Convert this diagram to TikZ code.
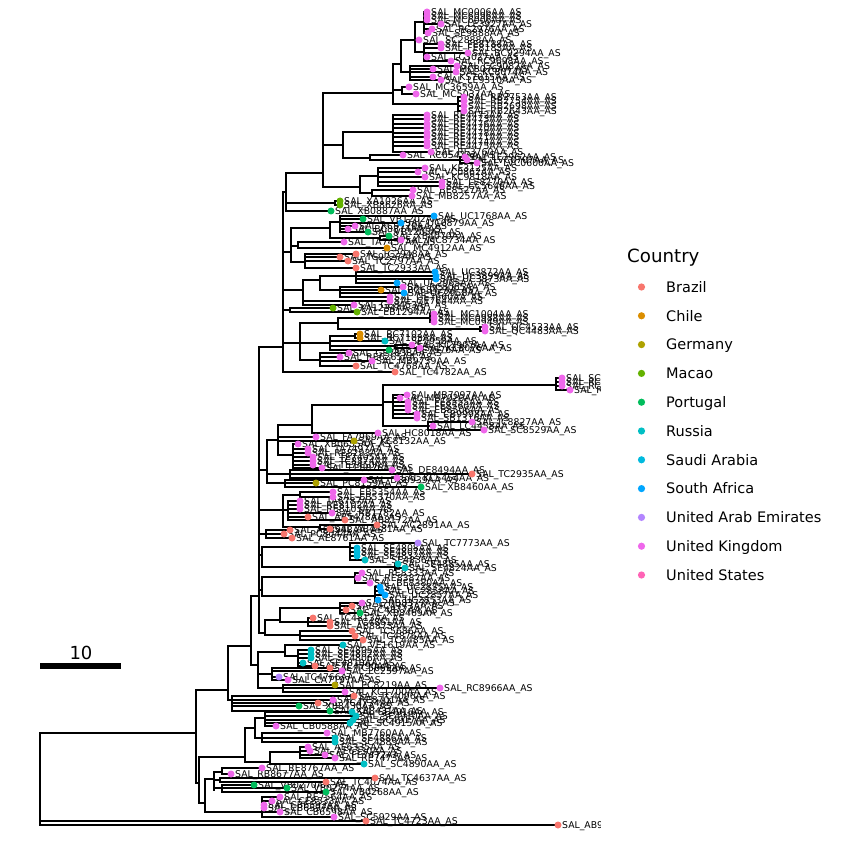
\documentclass[tikz,border=0pt]{standalone}
\usepackage{fontspec}
\setmainfont{DejaVu Sans}
\definecolor{cBr}{HTML}{F8766D}
\definecolor{cCh}{HTML}{DB8E00}
\definecolor{cGe}{HTML}{AEA200}
\definecolor{cMa}{HTML}{64B200}
\definecolor{cPo}{HTML}{00BD5C}
\definecolor{cRu}{HTML}{00BFC4}
\definecolor{cSa}{HTML}{00BADE}
\definecolor{cSA}{HTML}{00A6FF}
\definecolor{cUA}{HTML}{B385FF}
\definecolor{cUK}{HTML}{EF67EB}
\definecolor{cUS}{HTML}{FF63B6}
\tikzset{
  br/.style={line width=1.4pt, line cap=rect, black},
  lab/.style={anchor=base west, inner sep=0pt, font=\fontsize{9.3}{9.3}\selectfont},
  tipdot/.style={circle, inner sep=0pt, minimum size=7pt, draw=none},
  legdot/.style={circle, inner sep=0pt, minimum size=7.2pt, draw=none},
  legtxt/.style={anchor=base west, inner sep=0pt, font=\fontsize{14.5}{14.5}\selectfont},
}
\newcounter{tc}
\newcounter{ic}
\newcommand\TipLine[5]{\stepcounter{tc}%
  \coordinate (b\thetc) at (#1,#3); \coordinate (e\thetc) at (#2,#3);
  \draw[br] (b\thetc) -- (e\thetc);}
\newcommand\TipLab[5]{\stepcounter{tc}%
  \node[lab] (l\thetc) at (#2+4,#3+3.4) {SAL\_#5AA\_AS};}
\newcommand\TipDot[5]{\stepcounter{tc}%
  \node[tipdot, fill=#4] (d\thetc) at (#2,#3) {};}
\newcommand\InnDraw[5]{\stepcounter{ic}%
  \coordinate (ia\theic) at (#1,#3); \coordinate (ib\theic) at (#2,#3);
  \coordinate (ic\theic) at (#2,#4); \coordinate (id\theic) at (#2,#5);
  \draw[br] (ia\theic) -- (ib\theic); \draw[br] (ic\theic) -- (id\theic);}
\newcommand\GobbleFive[5]{}
\newcommand\treedata{%
\INN{40}{40}{733}{733}{825}
\INN{40}{196}{733}{690}{783}
\TIP{40}{366}{821}{cBr}{TC4723}
\TIP{40}{558}{825}{cBr}{AB9536}
\INN{196}{228}{690}{646}{700}
\INN{228}{251}{646}{596}{665}
\INN{251}{259}{596}{347}{633}
\INN{259}{283}{347}{192}{372}
\INN{283}{286}{192}{173}{211}
\INN{286}{323}{173}{93}{187}
\INN{323}{393}{93}{64}{104}
\INN{393}{401}{64}{40}{72}
\INN{401}{415}{40}{22}{52}
\INN{415}{424}{22}{12}{33}
\TIP{424}{427}{12}{cUK}{MC0006}
\TIP{424}{427}{16}{cUK}{MC6096}
\TIP{424}{427}{20}{cUK}{MC6006}
\TIP{424}{441}{24}{cUK}{LE3927}
\TIP{424}{432}{29}{cUK}{RC2976}
\TIP{424}{428}{33}{cUK}{SE9888}
\TIP{415}{419}{40}{cUK}{SC2888}
\INN{415}{424}{52}{44}{61}
\TIP{424}{441}{44}{cUK}{FE8188}
\TIP{424}{441}{48}{cUK}{FE8183}
\TIP{424}{468}{53}{cUK}{BC9294}
\TIP{424}{427}{57}{cUK}{LC3027}
\TIP{424}{451}{61}{cUK}{RC9698}
\INN{401}{410}{72}{66}{80}
\TIP{410}{457}{66}{cUK}{CC9082}
\TIP{410}{433}{69}{cUK}{MC8076}
\TIP{410}{456}{72}{cUK}{KC8074}
\TIP{410}{433}{77}{cUK}{KS7015}
\TIP{410}{441}{80}{cUK}{LE9310}
\INN{393}{402}{90}{87}{94}
\TIP{402}{409}{87}{cUK}{MC3659}
\TIP{402}{416}{94}{cUK}{MC5037}
\INN{393}{458}{104}{97}{111}
\TIP{458}{464}{97}{cUK}{RB2753}
\TIP{458}{464}{101}{cUK}{RB2754}
\TIP{458}{464}{106}{cUK}{RB2698}
\TIP{458}{464}{111}{cUK}{RB2643}
\INN{323}{343}{145}{132}{158}
\INN{343}{393}{132}{115}{152}
\TIP{393}{427}{115}{cUK}{RE4472}
\TIP{393}{427}{119}{cUK}{RE4473}
\TIP{393}{427}{124}{cUK}{RE4476}
\TIP{393}{427}{128}{cUK}{RE4470}
\TIP{393}{427}{133}{cUK}{RE4478}
\TIP{393}{427}{137}{cUK}{RE4471}
\TIP{393}{427}{142}{cUK}{RE4474}
\TIP{393}{427}{146}{cUK}{RE4475}
\TIP{393}{431}{152}{cUK}{RE3760}
\INN{343}{370}{158}{155}{160}
\TIP{370}{403}{155}{cUK}{RC6542}
\INN{370}{460}{160}{157}{163}
\TIP{460}{465}{157}{cUK}{LE3962}
\TIP{460}{467}{160}{cUK}{LVC0707}
\TIP{460}{477}{163}{cUK}{LVC0600}
\INN{323}{360}{187}{176}{193}
\INN{360}{378}{176}{168}{186}
\TIP{378}{425}{168}{cUK}{KE3125}
\TIP{378}{418}{172}{cUK}{VC0862}
\TIP{378}{425}{177}{cUK}{KC9818}
\TIP{378}{442}{182}{cUK}{LE8270}
\TIP{378}{442}{186}{cUK}{CC5646}
\INN{360}{372}{193}{190}{196}
\TIP{372}{413}{190}{cUK}{BE8527}
\TIP{372}{412}{196}{cUK}{MB8257}
\INN{286}{335}{203}{201}{205}
\TIP{335}{340}{201}{cMa}{XA1026}
\TIP{335}{340}{205}{cMa}{XB8626}
\TIP{286}{331}{211}{cPo}{XB0887}
\INN{283}{291}{252}{228}{262}
\INN{291}{330}{228}{222}{238}
\INN{330}{340}{222}{216}{232}
\TIP{340}{434}{216}{cSA}{UC1768}
\TIP{340}{363}{219}{cPo}{VB1202}
\TIP{340}{401}{223}{cSA}{UC0879}
\TIP{340}{355}{226}{cUK}{KC9770}
\TIP{340}{348}{229}{cUK}{BC8874}
\TIP{340}{368}{232}{cPo}{VB1205}
\INN{330}{380}{238}{236}{240}
\TIP{380}{389}{236}{cPo}{XB4070}
\TIP{380}{401}{240}{cUK}{MC8734}
\INN{291}{298}{246}{242}{248}
\TIP{298}{344}{242}{cUK}{TA7457}
\TIP{298}{387}{248}{cCh}{MC4912}
\INN{291}{305}{262}{254}{268}
\TIP{305}{356}{254}{cBr}{TC2948}
\TIP{305}{340}{257}{cBr}{TC9227}
\TIP{305}{348}{261}{cBr}{TC2797}
\TIP{305}{356}{268}{cBr}{TC2933}
\INN{283}{303}{290}{280}{305}
\INN{303}{320}{280}{276}{290}
\INN{320}{356}{276}{272}{283}
\TIP{356}{435}{272}{cSA}{UC3872}
\TIP{356}{436}{276}{cSA}{UC3899}
\TIP{356}{436}{279}{cSA}{UC3873}
\TIP{356}{397}{283}{cSA}{UC2965}
\INN{320}{340}{290}{287}{297}
\TIP{340}{403}{287}{cUK}{RC8065}
\TIP{340}{381}{290}{cCh}{BC6842}
\TIP{340}{404}{293}{cSA}{UC2958}
\TIP{340}{390}{297}{cUK}{GE7660}
\TIP{303}{390}{301}{cUK}{GE7644}
\TIP{303}{354}{305}{cUK}{GE8453}
\INN{283}{290}{310}{308}{312}
\TIP{290}{333}{308}{cMa}{XA1234}
\TIP{290}{357}{312}{cMa}{EB1294}
\INN{283}{300}{343}{323}{360}
\INN{300}{338}{323}{318}{329}
\INN{338}{430}{318}{314}{322}
\TIP{430}{434}{314}{cUK}{MC1004}
\TIP{430}{434}{318}{cUK}{MC0988}
\TIP{430}{434}{322}{cUK}{MC0949}
\INN{338}{480}{329}{327}{331}
\TIP{480}{485}{327}{cUK}{QC4533}
\TIP{480}{485}{331}{cUK}{QC4483}
\INN{300}{330}{343}{336}{350}
\INN{330}{355}{336}{334}{338}
\TIP{355}{360}{334}{cCh}{BC7102}
\TIP{355}{360}{338}{cCh}{BC7103}
\TIP{330}{385}{341}{cRu}{SE5958}
\INN{330}{395}{346}{345}{348}
\TIP{395}{412}{345}{cUK}{KC3907}
\TIP{395}{420}{348}{cUK}{KC8076}
\TIP{330}{389}{350}{cPo}{BE7576}
\INN{300}{320}{360}{353}{366}
\TIP{320}{349}{353}{cUK}{GE7838}
\TIP{320}{340}{357}{cUK}{RE6265}
\TIP{320}{372}{361}{cUK}{MB9739}
\TIP{320}{356}{366}{cBr}{TC4768}
\TIP{283}{395}{372}{cBr}{TC4782}
\INN{259}{267}{470}{440}{483}
\INN{267}{278}{440}{425}{455}
\INN{278}{312}{425}{405}{433}
\INN{312}{383}{405}{385}{426}
\INN{383}{556}{385}{378}{390}
\TIP{556}{562}{378}{cUK}{SC7025}
\TIP{556}{562}{382}{cUK}{RC7032}
\TIP{556}{562}{386}{cUK}{RC7035}
\TIP{556}{570}{390}{cUK}{RE1033}
\INN{383}{393}{402}{395}{418}
\TIP{393}{407}{395}{cUK}{MB7097}
\TIP{393}{400}{398}{cUK}{MB7020}
\TIP{393}{408}{402}{cUK}{FE8555}
\TIP{393}{408}{406}{cUK}{FE8560}
\TIP{393}{408}{410}{cUK}{EB8506}
\TIP{393}{417}{414}{cUK}{CB9998}
\TIP{393}{417}{418}{cUK}{SB1316}
\INN{383}{428}{426}{422}{430}
\TIP{428}{472}{422}{cUK}{JC8827}
\TIP{428}{433}{426}{cUK}{LC4458}
\TIP{428}{484}{430}{cUK}{SC8529}
\TIP{312}{378}{433}{cUK}{HC8018}
\TIP{278}{316}{437}{cUK}{FA7969}
\TIP{278}{354}{441}{cGe}{KC8132}
\INN{278}{293}{455}{444}{468}
\TIP{293}{298}{444}{cUK}{XB0655}
\TIP{293}{308}{449}{cUK}{TA7497}
\TIP{293}{308}{453}{cUK}{RE8293}
\TIP{293}{313}{457}{cUK}{TE7405}
\TIP{293}{313}{461}{cUK}{TC8874}
\TIP{293}{313}{465}{cUK}{TE7450}
\TIP{293}{322}{468}{cUK}{FE8876}
\INN{267}{290}{474}{470}{478}
\TIP{290}{392}{470}{cUK}{DE8494}
\TIP{290}{472}{474}{cBr}{TC2935}
\TIP{290}{397}{478}{cUK}{KC5454}
\INN{267}{285}{483}{480}{487}
\TIP{285}{364}{480}{cUK}{DB0939}
\TIP{285}{316}{483}{cGe}{PC8159}
\TIP{285}{421}{487}{cPo}{XB8460}
\INN{259}{283}{510}{495}{527}
\INN{283}{300}{495}{492}{497}
\TIP{300}{333}{492}{cUK}{EB5354}
\TIP{300}{333}{497}{cUK}{EB5370}
\INN{283}{288}{510}{501}{520}
\TIP{288}{300}{501}{cUK}{TA6787}
\TIP{288}{300}{505}{cUK}{RE8102}
\TIP{288}{300}{509}{cUK}{RE8103}
\TIP{288}{332}{513}{cUK}{RB1782}
\TIP{288}{308}{517}{cBr}{AB5478}
\TIP{288}{345}{520}{cBr}{AB8172}
\INN{283}{320}{527}{525}{529}
\TIP{320}{377}{525}{cBr}{AC2891}
\TIP{320}{330}{529}{cBr}{AB4481}
\INN{259}{266}{534}{530}{538}
\TIP{266}{290}{530}{cBr}{AB8948}
\TIP{266}{284}{534}{cBr}{PC8044}
\TIP{266}{292}{538}{cBr}{AE8761}
\INN{259}{262}{555}{547}{567}
\INN{262}{350}{547}{543}{560}
\TIP{350}{418}{543}{cUA}{TC7773}
\TIP{350}{357}{548}{cSa}{SE4808}
\TIP{350}{357}{552}{cSa}{SE4807}
\TIP{350}{357}{556}{cSa}{SE4832}
\TIP{350}{365}{560}{cRu}{SE4836}
\INN{262}{395}{567}{564}{570}
\TIP{395}{398}{564}{cRu}{SE4885}
\TIP{395}{405}{568}{cRu}{SE4824}
\INN{259}{262}{590}{577}{596}
\INN{262}{355}{577}{573}{583}
\TIP{355}{362}{573}{cUK}{RE8333}
\TIP{355}{358}{578}{cUK}{RE8387}
\TIP{355}{370}{583}{cUK}{BE8380}
\INN{262}{375}{596}{587}{600}
\TIP{375}{380}{587}{cSA}{UC2835}
\TIP{375}{381}{591}{cSA}{UC2858}
\TIP{375}{385}{595}{cSA}{UC2857}
\TIP{375}{378}{600}{cSA}{UC2853}
\INN{259}{265}{633}{620}{635}
\INN{265}{280}{620}{608}{622}
\INN{280}{340}{608}{603}{613}
\TIP{340}{362}{603}{cUK}{RB8377}
\TIP{340}{352}{606}{cBr}{TC4773}
\TIP{340}{346}{610}{cBr}{TC4877}
\TIP{340}{360}{613}{cPo}{XB8469}
\INN{280}{308}{622}{618}{626}
\TIP{308}{313}{618}{cBr}{TC4813}
\TIP{308}{330}{622}{cBr}{TC4861}
\TIP{308}{330}{626}{cBr}{AB8873}
\INN{265}{300}{635}{631}{640}
\TIP{300}{352}{631}{cBr}{TC5686}
\TIP{300}{355}{636}{cBr}{TC4876}
\TIP{300}{363}{640}{cBr}{TC4485}
\INN{251}{258}{665}{652}{688}
\INN{258}{285}{652}{645}{656}
\TIP{285}{343}{645}{cRu}{VE1619}
\INN{285}{298}{656}{650}{666}
\TIP{298}{311}{650}{cRu}{SE4805}
\TIP{298}{311}{654}{cRu}{SE4802}
\TIP{298}{311}{658}{cRu}{SE4806}
\TIP{298}{303}{663}{cRu}{SE4810}
\TIP{298}{315}{666}{cBr}{TC4790}
\INN{258}{272}{674}{668}{680}
\TIP{272}{330}{668}{cBr}{TC5669}
\TIP{272}{342}{671}{cUK}{LC2597}
\TIP{272}{279}{677}{cUA}{TC4766}
\TIP{272}{288}{680}{cUK}{CA7197}
\INN{258}{283}{688}{685}{692}
\TIP{283}{335}{685}{cGe}{PC8219}
\TIP{283}{440}{688}{cUK}{RC8966}
\TIP{283}{345}{692}{cUK}{KC1700}
\INN{228}{232}{700}{696}{711}
\TIP{232}{354}{696}{cBr}{TC4096}
\TIP{232}{333}{700}{cUK}{RE8701}
\TIP{232}{318}{703}{cBr}{TC4734}
\TIP{232}{299}{706}{cPo}{XB8430}
\TIP{232}{330}{711}{cPo}{XB8431}
\INN{196}{199}{783}{757}{803}
\INN{199}{245}{757}{728}{762}
\INN{245}{255}{728}{718}{738}
\INN{255}{265}{718}{712}{726}
\TIP{265}{352}{712}{cRu}{SE4916}
\TIP{265}{356}{716}{cRu}{SE4910}
\TIP{265}{353}{720}{cRu}{SC4917}
\TIP{265}{350}{723}{cRu}{SC4915}
\TIP{265}{276}{726}{cUK}{CB0588}
\INN{255}{262}{738}{733}{742}
\TIP{262}{327}{733}{cUK}{MB7760}
\TIP{262}{335}{738}{cRu}{SE4886}
\TIP{262}{335}{742}{cRu}{SC4889}
\INN{245}{270}{762}{752}{764}
\INN{270}{300}{752}{747}{758}
\TIP{300}{308}{747}{cUK}{AE6335}
\TIP{300}{310}{751}{cUK}{AE6330}
\TIP{300}{325}{755}{cUK}{FE7472}
\TIP{300}{335}{758}{cUK}{RE7473}
\TIP{270}{364}{764}{cRu}{SC4890}
\INN{199}{205}{803}{779}{812}
\INN{205}{214}{779}{772}{790}
\INN{214}{222}{772}{768}{774}
\TIP{222}{262}{768}{cUK}{RE8767}
\TIP{222}{231}{774}{cUK}{RB8677}
\INN{214}{220}{780}{778}{782}
\TIP{220}{375}{778}{cBr}{TC4637}
\TIP{220}{326}{782}{cBr}{TC4074}
\INN{214}{222}{788}{785}{792}
\TIP{222}{254}{785}{cPo}{VB0270}
\TIP{222}{287}{788}{cPo}{VB0274}
\TIP{222}{326}{792}{cPo}{VB0268}
\INN{205}{262}{812}{797}{817}
\TIP{262}{280}{797}{cUK}{RE7564}
\TIP{262}{272}{801}{cUK}{CE8533}
\TIP{262}{264}{805}{cUK}{CB6592}
\TIP{262}{264}{808}{cUK}{CB6597}
\TIP{262}{280}{812}{cUK}{CB6598}
\TIP{262}{334}{817}{cUK}{SC5929}
}
\begin{document}
\begin{tikzpicture}[x=1pt,y=-1pt]
\useasboundingbox (0,0) rectangle (840,842);
\fill[white] (0,0) rectangle (840,842);
% pass 1: branches
\setcounter{tc}{0}\setcounter{ic}{0}
\let\TIP\TipLine \let\INN\InnDraw
\treedata
% pass 2: tip labels, clipped at the panel edge
\begin{scope}
\clip (0,0) rectangle (600,842);
\setcounter{tc}{0}
\let\TIP\TipLab \let\INN\GobbleFive
\treedata
\end{scope}
% pass 3: tip points
\setcounter{tc}{0}
\let\TIP\TipDot \let\INN\GobbleFive
\treedata
% scale bar
\coordinate (sbA) at (40,666);
\coordinate (sbB) at (121,666);
\draw[line width=5.5pt] (sbA) -- (sbB);
\node[anchor=base, inner sep=0pt, font=\fontsize{18}{18}\selectfont] (sbl) at (81,659) {10};
% legend
\node[anchor=base west, inner sep=0pt, font=\fontsize{18.2}{18.2}\selectfont] (legt) at (627,262) {Country};
\foreach \c/\t [count=\i from 0] in {cBr/Brazil,cCh/Chile,cGe/Germany,cMa/Macao,cPo/Portugal,cRu/Russia,cSa/Saudi Arabia,cSA/South Africa,cUA/United Arab Emirates,cUK/United Kingdom,cUS/United States}{
  \node[legdot, fill=\c] (ld\i) at (641.5,287+28.8*\i) {};
  \node[legtxt] (lt\i) at (666,287+28.8*\i+5.2) {\t};
}
\end{tikzpicture}
\end{document}
